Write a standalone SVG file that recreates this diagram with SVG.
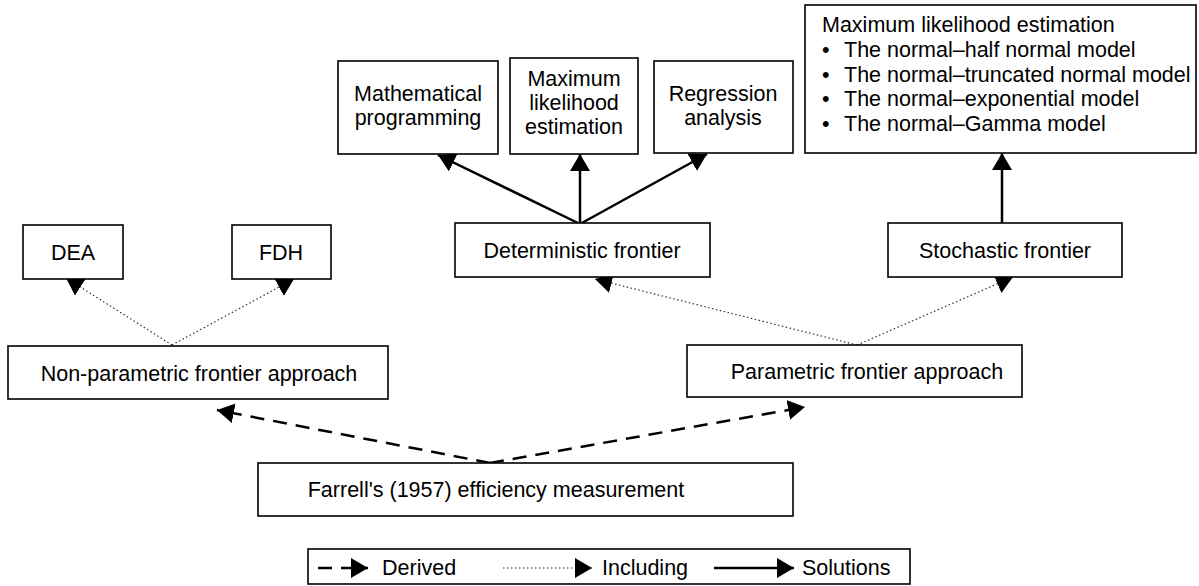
<svg xmlns="http://www.w3.org/2000/svg" width="1199" height="586" viewBox="0 0 1199 586">
<style>
.box{fill:#fff;stroke:#000;stroke-width:1.6}
.t{font-family:"Liberation Sans",Arial,sans-serif;font-size:21.5px;fill:#000}
.c{text-anchor:middle}
.solid{fill:none;stroke:#000;stroke-width:2.5}
.dash{fill:none;stroke:#000;stroke-width:2.5;stroke-dasharray:14 9}
.dot{fill:none;stroke:#333;stroke-width:1.2;stroke-dasharray:1.5 2.5}
</style>
<defs>
<marker id="ah" markerUnits="userSpaceOnUse" markerWidth="18" markerHeight="22" refX="17" refY="10" orient="auto">
<path d="M0,0 L17,10 L0,20 z" fill="#000"/>
</marker>
</defs>
<rect width="1199" height="586" fill="#fff"/>
<g id="connectors">
<path class="dot" d="M172,345 L66,278" marker-end="url(#ah)"/>
<path class="dot" d="M172,345 L294,279" marker-end="url(#ah)"/>
<path class="dot" d="M857,345 L595,279" marker-end="url(#ah)"/>
<path class="dot" d="M857,345 L1013,277" marker-end="url(#ah)"/>
<path class="solid" d="M580,224 L438,155" marker-end="url(#ah)"/>
<path class="solid" d="M580,224 L580,154" marker-end="url(#ah)"/>
<path class="solid" d="M580,224 L707,154" marker-end="url(#ah)"/>
<path class="solid" d="M1002,223 L1002,153" marker-end="url(#ah)"/>
<path class="dash" d="M490,463 L217,410" marker-end="url(#ah)"/>
<path class="dash" d="M490,463 L805,407" marker-end="url(#ah)"/>
</g>
<g id="dea"><rect class="box" x="23" y="225" width="100" height="54"/><text class="t c" x="73" y="260">DEA</text></g>
<g id="fdh"><rect class="box" x="232" y="225" width="99" height="54"/><text class="t c" x="281" y="260">FDH</text></g>
<g id="nonparam"><rect class="box" x="8" y="346" width="380" height="53"/><text class="t c" x="199" y="381">Non-parametric frontier approach</text></g>
<g id="param"><rect class="box" x="687" y="345" width="335" height="52"/><text class="t c" x="867" y="379">Parametric frontier approach</text></g>
<g id="deterministic"><rect class="box" x="455" y="223" width="255" height="54"/><text class="t c" x="582" y="258">Deterministic frontier</text></g>
<g id="stochastic"><rect class="box" x="888" y="223" width="234" height="54"/><text class="t c" x="1005" y="258">Stochastic frontier</text></g>
<g id="math"><rect class="box" x="338" y="61" width="160" height="93"/><text class="t c" x="418" y="101">Mathematical</text><text class="t c" x="418" y="125">programming</text></g>
<g id="mle"><rect class="box" x="510" y="58" width="128" height="96"/><text class="t c" x="574" y="86">Maximum</text><text class="t c" x="574" y="110">likelihood</text><text class="t c" x="574" y="134">estimation</text></g>
<g id="regression"><rect class="box" x="654" y="61" width="139" height="92"/><text class="t c" x="723" y="101">Regression</text><text class="t c" x="723" y="125">analysis</text></g>
<g id="mle-models"><rect class="box" x="805" y="5" width="391" height="148"/>
<text class="t" x="822" y="32">Maximum likelihood estimation</text>
<text class="t" x="822" y="57">•</text><text class="t" x="844" y="57">The normal–half normal model</text>
<text class="t" x="822" y="82">•</text><text class="t" x="844" y="82">The normal–truncated normal model</text>
<text class="t" x="822" y="106">•</text><text class="t" x="844" y="106">The normal–exponential model</text>
<text class="t" x="822" y="131">•</text><text class="t" x="844" y="131">The normal–Gamma model</text>
</g>
<g id="farrell"><rect class="box" x="258" y="463" width="535" height="53"/><text class="t c" x="496" y="497">Farrell's (1957) efficiency measurement</text></g>
<g id="legend"><rect class="box" x="308" y="549" width="602" height="35"/>
<path class="dash" d="M318,568 L368,568" marker-end="url(#ah)"/>
<text class="t" x="382" y="575">Derived</text>
<path class="dot" d="M503,568 L592,568" marker-end="url(#ah)"/>
<text class="t" x="602" y="575">Including</text>
<path class="solid" d="M714,568 L794,568" marker-end="url(#ah)"/>
<text class="t" x="802" y="575">Solutions</text>
</g>
</svg>
